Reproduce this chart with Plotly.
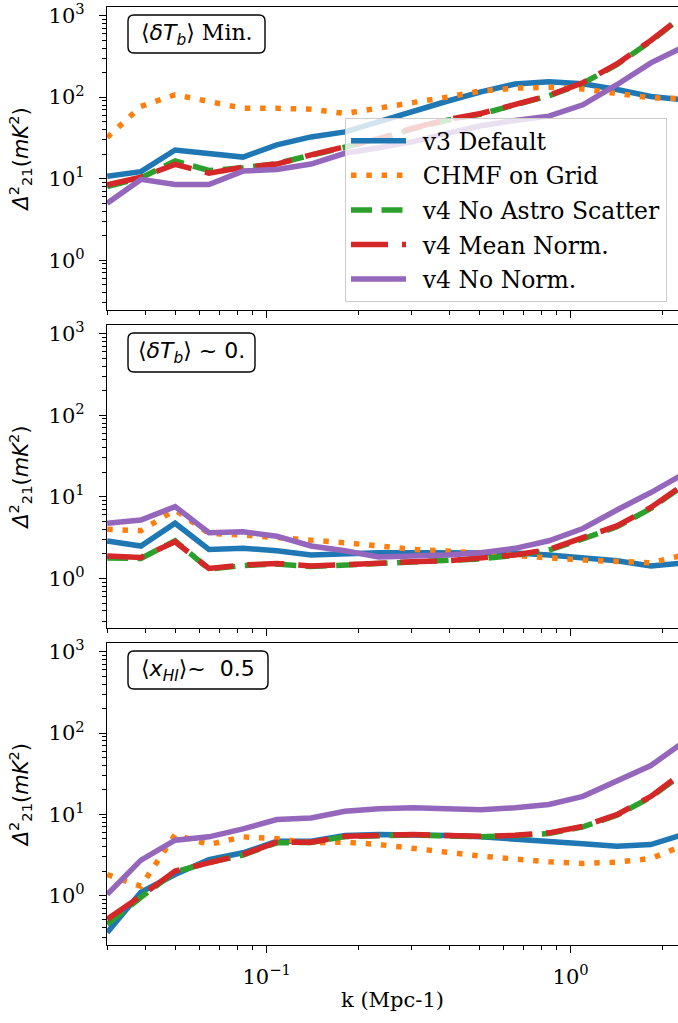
import plotly.graph_objects as go

# ---------------- data ----------------
k = [0.0299, 0.0386, 0.0500, 0.0646, 0.0836, 0.108, 0.140, 0.181, 0.234,
     0.303, 0.392, 0.507, 0.656, 0.848, 1.097, 1.419, 1.835, 2.374]

series_names = ["v3 Default", "CHMF on Grid", "v4 No Astro Scatter",
                "v4 Mean Norm.", "v4 No Norm."]

# panel 1 : <dTb> Min.
p1_v3 = [10.7, 12.2, 22.5, 20.7, 18.4, 26.0, 32.5, 37.5, 50, 68, 89, 116, 145, 154, 146, 124, 102, 92]
p1_chmf = [32, 77, 107, 88, 73, 73, 71, 63, 73, 85, 100, 119, 129, 132, 126, 111, 98, 96]
p1_noastro = [8.0, 10.2, 16.5, 12.6, 13.6, 15.3, 19.4, 24.6, 30.5, 41, 52, 62, 81, 104, 148, 250, 485, 1030]
p1_mean = [8.4, 10.4, 15.0, 11.7, 13.8, 15.1, 19.6, 25.0, 31, 41.7, 53, 63, 82, 105, 150, 255, 495, 1050]
p1_nonorm = [5.0, 9.8, 8.5, 8.5, 12.4, 13.0, 15.1, 20.5, 24, 28.5, 36, 44.6, 51.7, 58.5, 80.6, 142, 263, 420]

# panel 2 : <dTb> ~ 0
p2_v3 = [2.88, 2.5, 4.75, 2.27, 2.34, 2.19, 1.94, 2.03, 2.07, 2.07, 2.07, 2.07, 2.05, 1.94, 1.81, 1.65, 1.42, 1.55]
p2_chmf = [4.0, 3.85, 6.9, 3.57, 3.41, 3.19, 2.96, 2.74, 2.5, 2.27, 2.17, 2.03, 1.88, 1.78, 1.68, 1.62, 1.56, 1.95]
p2_noastro = [1.78, 1.76, 2.9, 1.3, 1.44, 1.5, 1.4, 1.46, 1.5, 1.58, 1.63, 1.74, 1.92, 2.22, 3.05, 4.3, 7.2, 14.2]
p2_mean = [1.88, 1.81, 2.82, 1.33, 1.46, 1.53, 1.42, 1.49, 1.53, 1.6, 1.65, 1.76, 1.94, 2.27, 3.15, 4.4, 7.4, 14.5]
p2_nonorm = [4.75, 5.2, 7.6, 3.64, 3.74, 3.3, 2.5, 2.19, 1.84, 1.88, 1.94, 2.07, 2.34, 2.9, 4.1, 6.9, 11.3, 19.5]

# panel 3 : <xHI> ~ 0.5
p3_v3 = [0.35, 1.1, 1.81, 2.77, 3.35, 4.65, 4.65, 5.47, 5.63, 5.63, 5.47, 5.27, 4.98, 4.65, 4.32, 4.04, 4.24, 5.7]
p3_chmf = [1.81, 1.3, 5.6, 4.24, 5.27, 5.0, 4.45, 4.53, 4.24, 3.86, 3.41, 3.05, 2.77, 2.6, 2.48, 2.57, 2.85, 4.2]
p3_noastro = [0.44, 0.95, 1.95, 2.55, 3.15, 4.45, 4.5, 5.3, 5.45, 5.55, 5.4, 5.3, 5.45, 5.8, 7.0, 9.7, 16.2, 33]
p3_mean = [0.51, 0.98, 2.0, 2.57, 3.19, 4.53, 4.53, 5.35, 5.5, 5.63, 5.47, 5.35, 5.5, 5.9, 7.1, 9.9, 16.6, 34]
p3_nonorm = [1.03, 2.72, 4.79, 5.27, 6.6, 8.6, 9.0, 10.9, 11.7, 12.0, 11.7, 11.4, 12.0, 13.2, 16.6, 25.5, 39.8, 79]

panels = [
    [p1_v3, p1_chmf, p1_noastro, p1_mean, p1_nonorm],
    [p2_v3, p2_chmf, p2_noastro, p2_mean, p2_nonorm],
    [p3_v3, p3_chmf, p3_noastro, p3_mean, p3_nonorm],
]

x_major = [0.1, 1]
x_major_text = ["10<sup>\u22121</sup>", "10<sup>0</sup>"]
x_minor = [0.03, 0.04, 0.05, 0.06, 0.07, 0.08, 0.09,
           0.2, 0.3, 0.4, 0.5, 0.6, 0.7, 0.8, 0.9, 2]
y_major = [1, 10, 100, 1000]
y_major_text = ["10<sup>0</sup>", "10<sup>1</sup>", "10<sup>2</sup>", "10<sup>3</sup>"]
y_minor = [0.3, 0.4, 0.5, 0.6, 0.7, 0.8, 0.9] + [2, 3, 4, 5, 6, 7, 8, 9] + \
          [20, 30, 40, 50, 60, 70, 80, 90] + [200, 300, 400, 500, 600, 700, 800, 900]

MATH = '<span style="font-family:\'DejaVu Sans\'">'
panel_labels = [
    MATH + "\u27e8<i>\u03b4T</i><sub><i>b</i></sub>\u27e9</span> Min.",
    MATH + "\u27e8<i>\u03b4T</i><sub><i>b</i></sub>\u27e9 ~ 0.</span>",
    MATH + "\u27e8<i>x</i><sub><i>HI</i></sub>\u27e9~  0.5</span>",
]

# ---------------- styles ----------------
colors = ["#1f77b4", "#ff7f0e", "#2ca02c", "#d62728", "#9467bd"]
dashes = ["solid", "5.5px,9.8px", "21px,9.5px", "37px,14px", "solid"]
LW = 5.5

W, H = 678, 1023
ML, MR, MT, MB = 107, 0, 7, 78
PW, PH = W - ML - MR, H - MT - MB


def fx(px):
    return (px - ML) / PW


def fy(py):
    return (H - MB - py) / PH


domains = [[fy(310), 1.0], [fy(628.3), fy(325)], [0.0, fy(643.3)]]
boxes = [(128, 15, 265, 53), (128, 333, 255, 372), (128, 651, 268, 689)]

SERIF = "DejaVu Serif"
fig = go.Figure()

for pi, pdata in enumerate(panels):
    xa = "x" if pi == 0 else f"x{pi+1}"
    ya = "y" if pi == 0 else f"y{pi+1}"
    for si, vals in enumerate(pdata):
        fig.add_trace(go.Scatter(
            x=k, y=vals, mode="lines", name="\u2002" + series_names[si],
            xaxis=xa, yaxis=ya,
            line=dict(color=colors[si], width=LW, dash=dashes[si]),
            showlegend=(pi == 0), legendgroup=f"g{si}",
        ))

axis_common = dict(
    type="log", showline=True, linecolor="black", linewidth=1.2,
    ticks="outside", ticklen=7, tickwidth=1.1, tickcolor="black",
    showgrid=False, zeroline=False, automargin=False,
    tickfont=dict(family=SERIF, size=21, color="black"),
)

for pi in range(3):
    xkey = "xaxis" if pi == 0 else f"xaxis{pi+1}"
    ykey = "yaxis" if pi == 0 else f"yaxis{pi+1}"
    yanchor = "y" if pi == 0 else f"y{pi+1}"
    xanchor = "x" if pi == 0 else f"x{pi+1}"
    xa = dict(axis_common)
    xa.update(
        range=[-1.525, 0.353], anchor=yanchor, domain=[0, 1], mirror=True,
        tickmode="array", tickvals=x_major, ticktext=x_major_text,
        showticklabels=(pi == 2), ticklabelstandoff=6,
        minor=dict(tickmode="array", tickvals=x_minor, ticks="outside",
                   ticklen=4, tickwidth=0.9, tickcolor="black"),
    )
    if pi == 2:
        xa["title"] = dict(text="k (Mpc-1)", font=dict(family=SERIF, size=21, color="black"),
                           standoff=4)
    ya = dict(axis_common)
    ya.update(
        range=[-0.61, 3.105], anchor=xanchor, domain=domains[pi], mirror=False,
        tickmode="array", tickvals=y_major, ticktext=y_major_text,
        ticklabelstandoff=10,
        minor=dict(tickmode="array", tickvals=y_minor, ticks="outside",
                   ticklen=4, tickwidth=0.9, tickcolor="black"),
        title=dict(text="<i>\u0394</i><sup>2</sup><sub>21</sub>(<i>mK</i><sup>2</sup>)",
                   font=dict(family="DejaVu Sans", size=21, color="black"),
                   standoff=14),
    )
    fig.layout[xkey] = xa
    fig.layout[ykey] = ya

# rounded label boxes
shapes = []
annotations = []
r = 6
for pi, (x0, y0, x1, y1) in enumerate(boxes):
    X0, X1 = fx(x0), fx(x1)
    Y0, Y1 = fy(y1), fy(y0)  # bottom, top in paper coords
    rx, ry = r / PW, r / PH
    path = (f"M {X0+rx},{Y0} L {X1-rx},{Y0} Q {X1},{Y0} {X1},{Y0+ry} "
            f"L {X1},{Y1-ry} Q {X1},{Y1} {X1-rx},{Y1} "
            f"L {X0+rx},{Y1} Q {X0},{Y1} {X0},{Y1-ry} "
            f"L {X0},{Y0+ry} Q {X0},{Y0} {X0+rx},{Y0} Z")
    shapes.append(dict(type="path", path=path, xref="paper", yref="paper",
                       line=dict(color="black", width=1.4), fillcolor="white", layer="above"))
    annotations.append(dict(text=panel_labels[pi], xref="paper", yref="paper",
                            x=(X0 + X1) / 2, y=(Y0 + Y1) / 2, xanchor="center", yanchor="middle",
                            showarrow=False, font=dict(family=SERIF, size=22, color="black")))

fig.update_layout(
    width=W, height=H,
    margin=dict(l=ML, r=MR, t=MT, b=MB, pad=0, autoexpand=False),
    paper_bgcolor="white", plot_bgcolor="white",
    font=dict(family=SERIF, color="black"),
    shapes=shapes, annotations=annotations,
    legend=dict(
        x=fx(345), y=fy(118), xanchor="left", yanchor="top",
        bgcolor="rgba(255,255,255,0.8)", bordercolor="#cccccc", borderwidth=1,
        font=dict(family=SERIF, size=23.5, color="black"),
        traceorder="grouped", tracegroupgap=1, itemwidth=55,
    ),
)

fig.write_html("out.html", config={"displayModeBar": False},
               post_script="document.body.style.margin='0';document.body.style.padding='0';")
